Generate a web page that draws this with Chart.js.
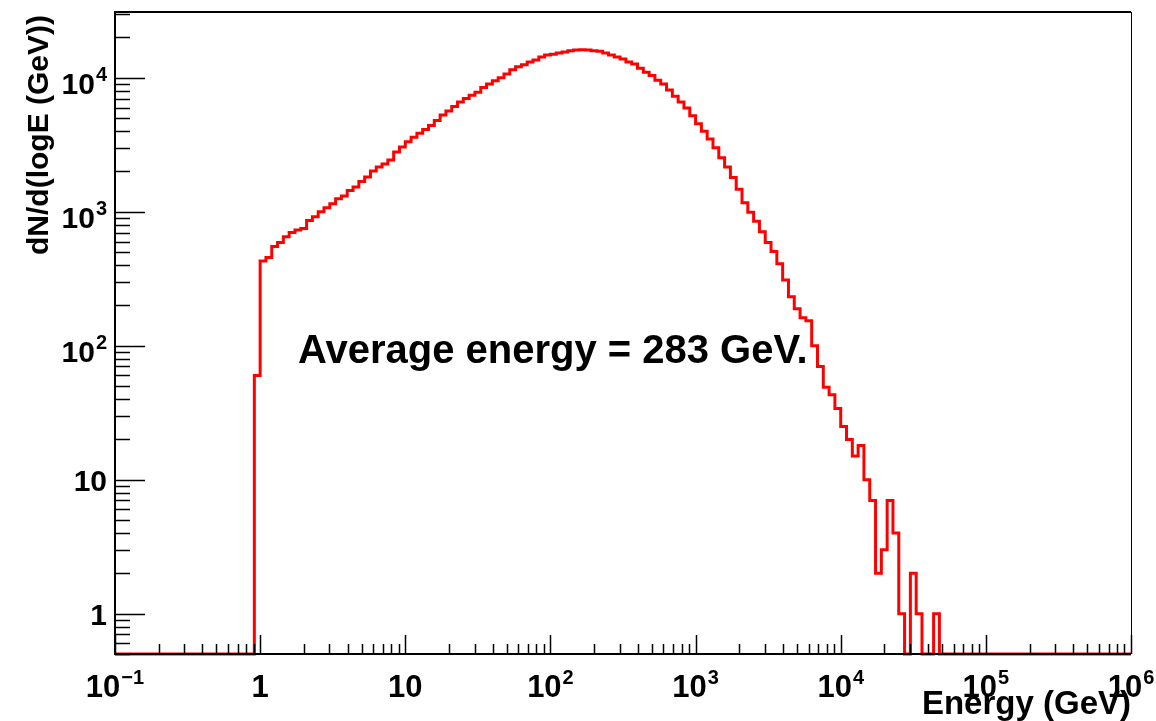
<!DOCTYPE html>
<html>
<head>
<meta charset="utf-8">
<title>Energy spectrum</title>
<script src="https://cdn.jsdelivr.net/npm/chart.js@4"></script>
<style>
    html, body { margin: 0; padding: 0; background: #fff; }
    #wrap { width: 1156px; height: 721px; }
</style>
</head>
<body>
<div id="wrap"><canvas id="spectrum" width="1156" height="721"></canvas></div>
<script>
// histogram binning: log10(E/GeV), 0.04 per bin, from 10^-1 to 10^6
const LOG_E_MIN = -1;
const LOG_E_MAX = 6;
const BIN_WIDTH = 0.04;
const FIRST_BIN = 24;   // first filled bin starts at log10(E) = -0.04

// dN/d(logE) per bin (bins 24 .. 141, zero elsewhere)
const counts = [
    60, 430, 455, 550, 590, 650, 700, 730, 750, 860,
    920, 1000, 1070, 1150, 1250, 1310, 1440, 1530, 1680, 1820,
    2020, 2160, 2270, 2440, 2800, 3050, 3330, 3600, 3860, 4120,
    4400, 4800, 5280, 5650, 6120, 6600, 7000, 7400, 7800, 8450,
    9000, 9500, 10000, 10700, 11500, 12100, 12500, 13100, 13600, 14300,
    14800, 15000, 15300, 15600, 15900, 16100, 16200, 16100, 15900, 15800,
    15300, 14800, 14300, 13800, 13100, 12700, 11800, 11000, 10400, 9600,
    9000, 8100, 7300, 6600, 5950, 5200, 4550, 4000, 3500, 3000,
    2530, 2160, 1800, 1470, 1170, 990, 850, 710, 590, 505,
    410, 310, 232, 189, 162, 154, 100, 70, 49, 43,
    34, 25, 20, 15, 18, 10, 7, 2, 3, 7,
    4, 1, 0, 2, 1, 0, 0, 1
];

const Y_MIN = 0.5;
const Y_MAX = 31000;

const xDecades = [-1, 0, 1, 2, 3, 4, 5, 6];
const yDecades = [0, 1, 2, 3, 4];

const xTitle = 'Energy (GeV)';
const yTitle = 'dN/d(logE (GeV))';
const note = 'Average energy = 283 GeV.';

// step points: one per bin low edge, empty bins sit on the frame
const points = [{ x: 10 ** LOG_E_MIN, y: Y_MIN }];
counts.forEach((c, i) => {
    points.push({ x: 10 ** (LOG_E_MIN + (FIRST_BIN + i) * BIN_WIDTH), y: c > 0 ? c : Y_MIN });
});
points.push({ x: 10 ** (LOG_E_MIN + (FIRST_BIN + counts.length) * BIN_WIDTH), y: Y_MIN });
points.push({ x: 10 ** LOG_E_MAX, y: Y_MIN });

const FONT = '"Liberation Sans", Arial, Helvetica, sans-serif';

function powLabel(d) {
    if (d === 0) return { base: '1', exp: '' };
    if (d === 1) return { base: '10', exp: '' };
    return { base: '10', exp: d < 0 ? '\u2212' + (-d) : String(d) };
}

// draw "10^n" with a raised exponent; align = 'center' or 'right'
function drawPow(ctx, d, x, y, align, size) {
    const { base, exp } = powLabel(d);
    const small = Math.round(size * 0.65);
    ctx.font = 'bold ' + size + 'px ' + FONT;
    const wb = ctx.measureText(base).width;
    ctx.font = 'bold ' + small + 'px ' + FONT;
    const we = exp ? ctx.measureText(exp).width + 1 : 0;
    const total = wb + we;
    let left = align === 'right' ? x - total : x - total / 2;
    ctx.textAlign = 'left';
    ctx.textBaseline = 'alphabetic';
    ctx.font = 'bold ' + size + 'px ' + FONT;
    ctx.fillText(base, left, y);
    if (exp) {
        ctx.font = 'bold ' + small + 'px ' + FONT;
        ctx.fillText(exp, left + wb + 1, y - Math.round(size * 0.42));
    }
}

const rootFrame = {
    id: 'rootFrame',
    afterDatasetsDraw(chart) {
        const { ctx, chartArea: a, scales: { x, y } } = chart;
        ctx.save();
        ctx.strokeStyle = '#000';
        ctx.fillStyle = '#000';

        // frame
        ctx.lineWidth = 1;
        ctx.beginPath();
        ctx.moveTo(a.right + 0.5, a.top);
        ctx.lineTo(a.right + 0.5, a.bottom);
        ctx.stroke();
        ctx.lineWidth = 2;
        ctx.beginPath();
        ctx.moveTo(a.right, a.top);
        ctx.lineTo(a.left, a.top);
        ctx.lineTo(a.left, a.bottom);
        ctx.lineTo(a.right, a.bottom);
        ctx.stroke();

        // ticks, pointing into the frame
        ctx.lineWidth = 1.5;
        ctx.beginPath();
        xDecades.forEach(d => {
            for (let m = 1; m <= 9; m++) {
                const v = m * 10 ** d;
                if (v > 10 ** LOG_E_MAX * 1.0001) break;
                const px = Math.round(x.getPixelForValue(v)) + 0.5;
                ctx.moveTo(px, a.bottom);
                ctx.lineTo(px, a.bottom - (m === 1 ? 19 : 10));
            }
        });
        [-1].concat(yDecades).forEach(d => {
            for (let m = 1; m <= 9; m++) {
                const v = m * 10 ** d;
                if (v < Y_MIN || v > Y_MAX) continue;
                const py = Math.round(y.getPixelForValue(v)) + 0.5;
                ctx.moveTo(a.left, py);
                ctx.lineTo(a.left + (m === 1 ? 30 : 15), py);
            }
        });
        ctx.stroke();

        // tick labels
        xDecades.forEach(d => {
            drawPow(ctx, d, x.getPixelForValue(10 ** d), a.bottom + 43, 'center', 31);
        });
        yDecades.forEach(d => {
            const py = y.getPixelForValue(10 ** d);
            drawPow(ctx, d, a.left - 8, py + (d >= 2 ? 16 : 11), 'right', 30);
        });

        // axis titles
        ctx.font = 'bold 33px ' + FONT;
        ctx.textAlign = 'right';
        ctx.textBaseline = 'alphabetic';
        ctx.fillText(xTitle, a.right, a.bottom + 60);
        ctx.save();
        ctx.translate(a.left - 67, a.top + 3);
        ctx.rotate(-Math.PI / 2);
        ctx.font = 'bold 30px ' + FONT;
        ctx.fillText(yTitle, 0, 0);
        ctx.restore();

        // annotation
        ctx.font = 'bold 40px ' + FONT;
        ctx.textAlign = 'left';
        ctx.fillText(note, a.left + 183, a.top + 351);
        ctx.restore();
    }
};

new Chart(document.getElementById('spectrum'), {
    type: 'line',
    data: {
        datasets: [{
            label: 'spectrum',
            data: points,
            stepped: true,
            borderColor: '#ff0000',
            borderWidth: 3,
            pointRadius: 0,
            fill: false,
            tension: 0,
            clip: false
        }]
    },
    options: {
        responsive: false,
        animation: false,
        layout: { padding: { left: 115, right: 25, top: 12, bottom: 67 } },
        plugins: {
            legend: { display: false },
            tooltip: { enabled: false }
        },
        scales: {
            x: { type: 'logarithmic', min: 10 ** LOG_E_MIN, max: 10 ** LOG_E_MAX, display: false },
            y: { type: 'logarithmic', min: Y_MIN, max: Y_MAX, display: false }
        }
    },
    plugins: [rootFrame]
});
</script>
</body>
</html>
